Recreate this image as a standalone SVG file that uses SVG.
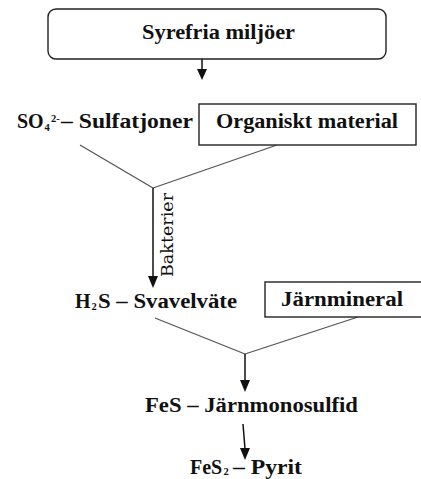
<svg xmlns="http://www.w3.org/2000/svg" width="421" height="479" viewBox="0 0 421 479">
<style>
.t{font-family:"Liberation Serif","Times New Roman",serif;font-weight:bold;font-size:20px;fill:#111}
.r{font-family:"DejaVu Serif","Liberation Serif",serif;font-size:17px;fill:#111}
.s{font-size:10.5px}
.box{fill:#fff;stroke:#222;stroke-width:1.4}
.ln{stroke:#555;stroke-width:1.3;fill:none}
.ar{stroke:#111;stroke-width:1.5}
.hd{fill:#111}
</style>
<g id="connectors">
<line class="ln" x1="80" y1="145" x2="153" y2="188"/>
<line class="ln" x1="277" y1="145" x2="153" y2="188"/>
<line class="ln" x1="155" y1="318" x2="245" y2="354"/>
<line class="ln" x1="358" y1="317" x2="245" y2="354"/>
<line class="ar" x1="202" y1="59" x2="202" y2="70"/>
<polygon class="hd" points="197,69 207,69 202,80"/>
<line class="ar" x1="153" y1="188" x2="153" y2="277"/>
<polygon class="hd" points="148,276 158,276 153,288"/>
<line class="ar" x1="245" y1="354" x2="245" y2="381"/>
<polygon class="hd" points="240,380 250,380 245,392"/>
<line class="ar" x1="243" y1="424" x2="245" y2="449"/>
<polygon class="hd" points="240,448 250,448 245,460"/>
<text class="r" transform="translate(173 277) rotate(-90)" textLength="84" lengthAdjust="spacingAndGlyphs">Bakterier</text>
</g>
<g id="syrefria">
<rect class="box" x="48" y="9" width="338" height="50" rx="8"/>
<text class="t" x="142" y="39" textLength="153" lengthAdjust="spacingAndGlyphs">Syrefria miljöer</text>
</g>
<g id="sulfatjoner">
<text class="t" y="128"><tspan x="17">SO</tspan><tspan class="s" x="44.5" y="131">4</tspan><tspan class="s" x="51" y="122">2-</tspan><tspan x="61" y="128" textLength="132" lengthAdjust="spacingAndGlyphs">– Sulfatjoner</tspan></text>
</g>
<g id="organiskt">
<rect class="box" x="199" y="104" width="217" height="41"/>
<text class="t" x="216" y="128" textLength="182" lengthAdjust="spacingAndGlyphs">Organiskt material</text>
</g>
<g id="svavelvate">
<text class="t" y="308"><tspan x="75">H</tspan><tspan class="s" x="91.5" y="310">2</tspan><tspan x="98" y="308" textLength="139" lengthAdjust="spacingAndGlyphs">S – Svavelväte</tspan></text>
</g>
<g id="jarnmineral">
<rect class="box" x="265" y="282" width="160" height="35"/>
<text class="t" x="281" y="306" textLength="122" lengthAdjust="spacingAndGlyphs">Järnmineral</text>
</g>
<g id="fes">
<text class="t" x="145" y="412" textLength="213" lengthAdjust="spacingAndGlyphs">FeS – Järnmonosulfid</text>
</g>
<g id="pyrit">
<text class="t" y="474"><tspan x="190">FeS</tspan><tspan class="s" x="223.5" y="475">2</tspan><tspan x="233" y="474" textLength="69" lengthAdjust="spacingAndGlyphs">– Pyrit</tspan></text>
</g>
</svg>
